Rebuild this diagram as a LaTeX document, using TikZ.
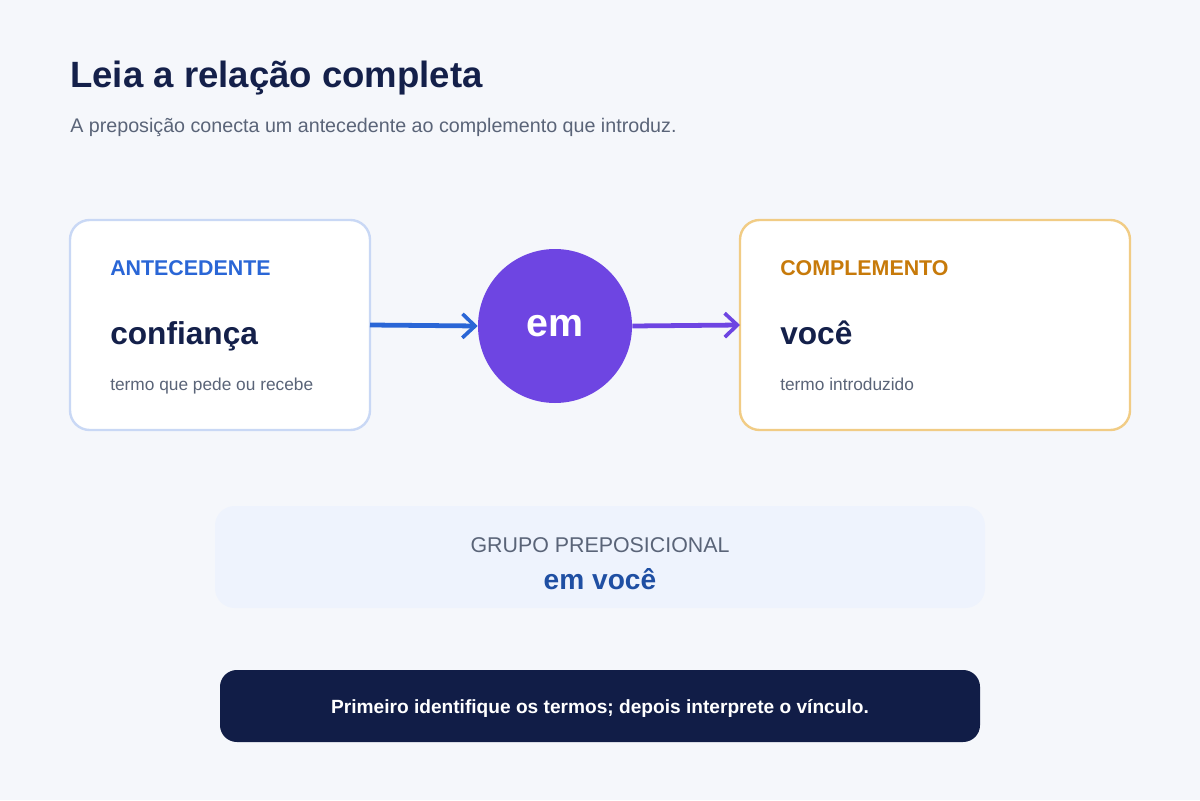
\documentclass[tikz,border=0pt]{standalone}
\usepackage{fontspec}
\setmainfont{Liberation Sans}
\usetikzlibrary{arrows.meta, positioning}

\definecolor{pagebg}{HTML}{F5F7FB}
\definecolor{navy}{HTML}{14204A}
\definecolor{slate}{HTML}{5A6478}
\definecolor{antblue}{HTML}{2A66D6}
\definecolor{antedge}{HTML}{C9D8F5}
\definecolor{violet}{HTML}{6E45E2}
\definecolor{compor}{HTML}{C77A0A}
\definecolor{compedge}{HTML}{F1CC85}
\definecolor{groupbg}{HTML}{EEF3FD}
\definecolor{groupblue}{HTML}{1F4FA3}
\definecolor{barbg}{HTML}{111D47}

\tikzset{
  termbox/.style={line width=1.7pt, fill=white, rounded corners=14pt},
  tag/.style={anchor=base west, inner sep=0pt, font=\bfseries\fontsize{15.2}{18}\selectfont},
  word/.style={anchor=base west, inner sep=0pt, text=navy, font=\bfseries\fontsize{22.5}{26}\selectfont},
  gloss/.style={anchor=base west, inner sep=0pt, text=slate, font=\fontsize{12.3}{15}\selectfont},
  link/.style={line width=3.4pt, -{Straight Barb[length=9pt,width=17pt,line width=2.6pt]}}
}

\begin{document}
\begin{tikzpicture}[x=0.025cm,y=-0.025cm]
  % page
  \fill[pagebg] (0,0) rectangle (1200,800);
  \useasboundingbox (0,0) rectangle (1200,800);

  % heading
  \node[anchor=base west, inner sep=0pt, text=navy, font=\bfseries\fontsize{26}{30}\selectfont] (title) at (70,88) {Leia a relação completa};
  \node[anchor=base west, inner sep=0pt, text=slate, font=\fontsize{14}{17}\selectfont] (subtitle) at (70,133) {A preposição conecta um antecedente ao complemento que introduz.};

  % antecedent
  \draw[termbox, draw=antedge] (70,220) rectangle (370,430);
  \coordinate (antR) at (370,325);
  \node[tag, text=antblue] (anttag) at (110,275) {ANTECEDENTE};
  \node[word] (antword) at (110,344) {confiança};
  \node[gloss] (antgloss) at (110,390) {termo que pede ou recebe};

  % preposition
  \node[circle, fill=violet, minimum size=154*0.025cm, inner sep=0pt, text=white,
        font=\bfseries\fontsize{28}{31}\selectfont] (prep) at (555,326) {em};

  % complement
  \draw[termbox, draw=compedge] (740,220) rectangle (1130,430);
  \coordinate (compL) at (740,325);
  \node[tag, text=compor] (comptag) at (780,275) {COMPLEMENTO};
  \node[word] (compword) at (780,344) {você};
  \node[gloss] (compgloss) at (780,390) {termo introduzido};

  % connectors
  \draw[link, antblue] (antR) -- (prep.west);
  \draw[link, violet] (prep.east) -- (compL);

  % group
  \fill[groupbg, rounded corners=14pt] (215,506) rectangle (985,608);
  \node[text=slate, font=\fontsize{15.2}{18}\selectfont, anchor=base] (grouptag) at (600,552) {GRUPO PREPOSICIONAL};
  \node[text=groupblue, font=\bfseries\fontsize{20}{23}\selectfont, anchor=base] (groupword) at (600,589) {em você};

  % footer
  \fill[barbg, rounded corners=12pt] (220,670) rectangle (980,742);
  \node[text=white, font=\bfseries\fontsize{13.6}{16}\selectfont, anchor=base] (tip) at (600,713) {Primeiro identifique os termos; depois interprete o vínculo.};
\end{tikzpicture}
\end{document}
